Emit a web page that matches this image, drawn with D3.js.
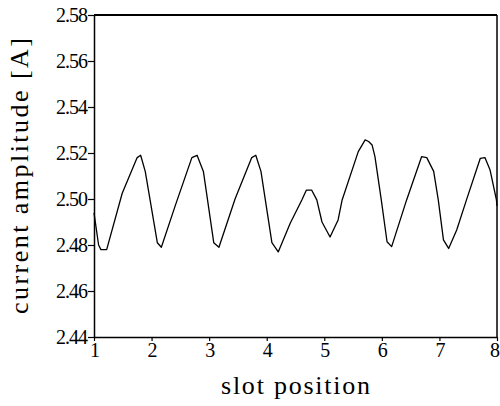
<!DOCTYPE html>
<html>
<head>
<meta charset="utf-8">
<script src="https://cdn.jsdelivr.net/npm/d3@7"></script>
<style>
  body { margin: 0; background: #fff; }
  svg text { font-family: "Liberation Serif", "Times New Roman", Tinos, "DejaVu Serif", "Noto Serif", FreeSerif, serif; fill: #000; }
</style>
</head>
<body>
<svg id="chart" width="500" height="406"></svg>
<script>
const slotPos = [1.00, 1.08, 1.12, 1.22, 1.49, 1.75, 1.81, 1.89, 2.10, 2.17,
  2.41, 2.70, 2.79, 2.90, 3.08, 3.17, 3.45, 3.74, 3.81, 3.90,
  4.09, 4.20, 4.41, 4.61, 4.69, 4.78, 4.87, 4.96, 5.10, 5.24,
  5.31, 5.59, 5.71, 5.77, 5.83, 5.88, 5.99, 6.09, 6.17, 6.43,
  6.69, 6.78, 6.90, 6.98, 7.07, 7.16, 7.30, 7.47, 7.71, 7.79,
  7.88, 7.99, 8.00];
const current = [2.494, 2.480, 2.478, 2.478, 2.5025, 2.518, 2.519, 2.512, 2.481, 2.479,
  2.497, 2.518, 2.519, 2.512, 2.481, 2.479, 2.500, 2.518, 2.519, 2.512,
  2.481, 2.477, 2.4896, 2.4996, 2.5039, 2.5039, 2.4996, 2.490, 2.4835, 2.4909,
  2.4996, 2.5206, 2.5257, 2.525, 2.5235, 2.5184, 2.4996, 2.4814, 2.4793, 2.4996,
  2.5184, 2.518, 2.512, 2.4996, 2.4822, 2.4785, 2.4865, 2.4996, 2.5177, 2.518,
  2.5126, 2.4996, 2.497];

const xTicks = [1, 2, 3, 4, 5, 6, 7, 8];
const yTicks = [2.44, 2.46, 2.48, 2.50, 2.52, 2.54, 2.56, 2.58];

const svg = d3.select('#chart');
const margin = {left: 94, right: 3, top: 15, bottom: 69};
const W = 500, H = 406;

const x = d3.scaleLinear().domain([1, 8]).range([margin.left, W - margin.right]);
const y = d3.scaleLinear().domain([2.44, 2.58]).range([H - margin.bottom, margin.top]);

// frame: top and right edges
svg.append('line')
  .attr('x1', x(1)).attr('x2', x(8))
  .attr('y1', y(2.58)).attr('y2', y(2.58))
  .attr('stroke', '#000').attr('stroke-width', 2);
svg.append('line')
  .attr('x1', x(8)).attr('x2', x(8))
  .attr('y1', y(2.58)).attr('y2', y(2.44))
  .attr('stroke', '#000').attr('stroke-width', 1.5);

// left axis
const yAxis = svg.append('g')
  .attr('transform', `translate(${x(1)},0)`)
  .call(d3.axisLeft(y).tickValues(yTicks).tickFormat(d3.format('.2f'))
    .tickSize(6).tickPadding(1).tickSizeOuter(0));

// bottom axis
const xAxis = svg.append('g')
  .attr('transform', `translate(0,${y(2.44)})`)
  .call(d3.axisBottom(x).tickValues(xTicks).tickFormat(d3.format('d'))
    .tickSize(4).tickPadding(2).tickSizeOuter(0));

[yAxis, xAxis].forEach(g => {
  g.attr('font-family', null).attr('font-size', null);
  g.select('.domain').attr('stroke', '#000').attr('stroke-width', 1.5);
  g.selectAll('.tick line').attr('stroke', '#000').attr('stroke-width', 1.2);
  g.selectAll('.tick text')
    .style('font-size', '20px')
    .attr('letter-spacing', '-1px')
    .attr('fill', '#000');
});

// last x label sits against the right edge
xAxis.selectAll('.tick text').filter(d => d === 8).attr('dx', -3);

// data line
const line = d3.line().x((d, i) => x(slotPos[i])).y(d => y(d));
svg.append('path')
  .datum(current)
  .attr('d', line)
  .attr('fill', 'none')
  .attr('stroke', '#000')
  .attr('stroke-width', 1.3)
  .attr('stroke-linejoin', 'round');

// axis titles
svg.append('text')
  .attr('x', (x(1) + x(8)) / 2)
  .attr('y', 394)
  .attr('text-anchor', 'middle')
  .style('font-size', '26px')
  .attr('textLength', 149)
  .attr('lengthAdjust', 'spacing')
  .text('slot position');

svg.append('text')
  .attr('transform', `translate(28,${(y(2.44) + y(2.58)) / 2}) rotate(-90)`)
  .attr('text-anchor', 'middle')
  .style('font-size', '26px')
  .attr('textLength', 276)
  .attr('lengthAdjust', 'spacing')
  .text('current amplitude [A]');
</script>
</body>
</html>
